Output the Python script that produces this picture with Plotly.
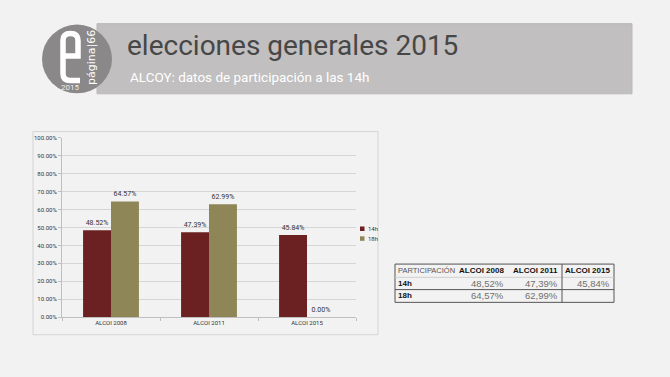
import plotly.graph_objects as go

# ---- data ----
categories = ["ALCOI 2008", "ALCOI 2011", "ALCOI 2015"]
h14 = [48.52, 47.39, 45.84]
h18 = [64.57, 62.99, 0.00]
series_names = ["14h", "18h"]
y_ticks = [0, 10, 20, 30, 40, 50, 60, 70, 80, 90, 100]
table_header = ["PARTICIPACIÓN", "ALCOI 2008", "ALCOI 2011", "ALCOI 2015"]
table_rows = [["14h", "48,52%", "47,39%", "45,84%"],
              ["18h", "64,57%", "62,99%", ""]]

W, H = 670, 377
def px(x): return x / W
def py(y): return 1 - y / H

NARROW = "Roboto, sans-serif"
C14 = "#6b2121"
C18 = "#8e8657"

fig = go.Figure()
for name, vals, col in [(series_names[0], h14, C14), (series_names[1], h18, C18)]:
    fig.add_trace(go.Bar(x=categories, y=vals, name=name, marker_color=col,
                         marker_line_width=0,
                         texttemplate="%{y:.2f}%", textposition="outside",
                         outsidetextfont=dict(size=7, color="#333333", family=NARROW),
                         cliponaxis=False, showlegend=False, hoverinfo="skip"))

fig.update_layout(
    width=W, height=H, margin=dict(l=0, r=0, t=0, b=0),
    paper_bgcolor="#f2f2f2", plot_bgcolor="#f2f2f2",
    barmode="group", bargap=0.43, bargroupgap=0,
    xaxis=dict(domain=[px(62), px(356)], showline=True, linecolor="#bfbfbf",
               ticks="outside", tickson="boundaries", ticklen=3, tickcolor="#bfbfbf",
               tickfont=dict(size=6, family=NARROW, color="#333")),
    yaxis=dict(domain=[py(319), py(136.5)], range=[0, 100], tickvals=y_ticks,
               ticktext=[f"{v:.2f}%" for v in y_ticks],
               showline=True, linecolor="#bfbfbf", ticks="outside", ticklen=3,
               tickcolor="#bfbfbf", gridcolor="#d6d6d6", zeroline=False,
               tickfont=dict(size=6, family=NARROW, color="#333")),
)

shapes = []
annotations = []

# chart frame
shapes.append(dict(type="rect", xref="paper", yref="paper",
                   x0=px(33), x1=px(378), y0=py(337), y1=py(130),
                   line=dict(color="#d4d4d4", width=1), fillcolor="rgba(0,0,0,0)", layer="below"))

# legend
for k, (name, col) in enumerate([(series_names[0], C14), (series_names[1], C18)]):
    yc = 229 + k * 10
    shapes.append(dict(type="rect", xref="paper", yref="paper",
                       x0=px(360), x1=px(364.5), y0=py(yc + 2.3), y1=py(yc - 2.3),
                       line=dict(width=0), fillcolor=col))
    annotations.append(dict(x=px(366), y=py(yc), xref="paper", yref="paper", text=name,
                            showarrow=False, xanchor="left", yanchor="middle",
                            font=dict(size=6, family=NARROW, color="#333")))

# banner
shapes.append(dict(type="rect", xref="paper", yref="paper",
                   x0=px(97), x1=px(632), y0=py(91.5), y1=py(20),
                   line=dict(color="#b9b9b9", width=1), fillcolor="#c1bfbf", layer="above"))
shapes.append(dict(type="circle", xref="paper", yref="paper",
                   x0=px(42), x1=px(112), y0=py(91), y1=py(21),
                   line=dict(width=0), fillcolor="#8a8888", layer="above"))

def path_px(pts):
    s = ""
    for cmd, coords in pts:
        s += cmd
        if coords:
            s += " ".join(f"{px(a):.5f},{py(b):.5f}" for a, b in coords)
        s += " "
    return s.strip()

e_path = path_px([("M", [(62, 53)]), ("L", [(78, 53)]), ("L", [(78, 37)]),
                  ("Q", [(78, 30), (70.5, 30)]), ("Q", [(63, 30), (63, 37)]),
                  ("L", [(63, 71)]), ("Q", [(63, 78), (70.5, 78)]), ("L", [(80, 78)])])
shapes.append(dict(type="path", xref="paper", yref="paper", path=e_path,
                   line=dict(color="white", width=5.5), layer="above"))

annotations.append(dict(x=px(92), y=py(55), xref="paper", yref="paper",
                        text="página|66", textangle=-90, showarrow=False,
                        font=dict(size=11, color="white", family="DejaVu Sans"),
                        xanchor="center", yanchor="middle"))
annotations.append(dict(x=px(70), y=py(85), xref="paper", yref="paper",
                        text="2015", showarrow=False,
                        font=dict(size=8, color="#eeeeee", family=NARROW),
                        xanchor="center", yanchor="middle"))

annotations.append(dict(x=px(125), y=py(42), xref="paper", yref="paper",
                        text="elecciones generales 2015", showarrow=False,
                        font=dict(size=28, color="#474747", family=NARROW),
                        xanchor="left", yanchor="middle"))
annotations.append(dict(x=px(128), y=py(74), xref="paper", yref="paper",
                        text="ALCOY: datos de participación a las 14h", showarrow=False,
                        font=dict(size=13.5, color="white", family=NARROW),
                        xanchor="left", yanchor="middle"))

# table
TL, TR, TT, TB = 395, 614, 265, 304
shapes.append(dict(type="rect", xref="paper", yref="paper",
                   x0=px(TL), x1=px(TR), y0=py(TB), y1=py(TT),
                   line=dict(color="#555", width=1), fillcolor="rgba(0,0,0,0)"))
shapes.append(dict(type="line", xref="paper", yref="paper",
                   x0=px(TL), x1=px(TR), y0=py(291), y1=py(291),
                   line=dict(color="#555", width=1)))
shapes.append(dict(type="line", xref="paper", yref="paper",
                   x0=px(TL), x1=px(TR), y0=py(278.5), y1=py(278.5),
                   line=dict(color="#cfcfcf", width=1)))
shapes.append(dict(type="line", xref="paper", yref="paper",
                   x0=px(562), x1=px(562), y0=py(TB), y1=py(TT),
                   line=dict(color="#555", width=1)))

TF = "Liberation Sans, Arial, sans-serif"
col_right = [None, 506, 560, 612]
row_y = [271.5, 284.5, 297.5]
annotations.append(dict(x=px(396), y=py(row_y[0]), xref="paper", yref="paper",
                        text=table_header[0], showarrow=False, xanchor="left", yanchor="middle",
                        font=dict(size=7.5, color="#555", family=TF)))
for j in range(1, 4):
    annotations.append(dict(x=px(col_right[j]), y=py(row_y[0]), xref="paper", yref="paper",
                            text="<b>" + table_header[j] + "</b>", showarrow=False,
                            xanchor="right", yanchor="middle",
                            font=dict(size=8, color="#111", family=TF)))
for i, row in enumerate(table_rows):
    annotations.append(dict(x=px(396), y=py(row_y[i + 1]), xref="paper", yref="paper",
                            text="<b>" + row[0] + "</b>", showarrow=False,
                            xanchor="left", yanchor="middle",
                            font=dict(size=8, color="#111", family=TF)))
    for j in range(1, 4):
        if row[j]:
            annotations.append(dict(x=px(col_right[j]), y=py(row_y[i + 1]), xref="paper", yref="paper",
                                    text=row[j], showarrow=False, xanchor="right", yanchor="middle",
                                    font=dict(size=9.5, color="#707070", family=TF)))

fig.update_layout(shapes=shapes, annotations=annotations, hovermode=False)
fig.write_html("out.html", config={"displayModeBar": False, "staticPlot": True},
               post_script="document.body.style.margin='0';document.body.style.overflow='hidden';")
